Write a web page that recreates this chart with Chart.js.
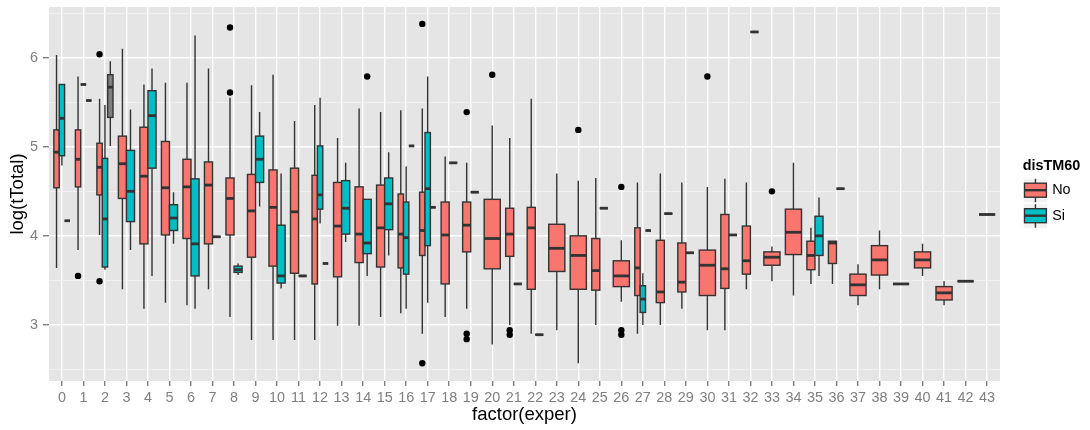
<!DOCTYPE html>
<html>
<head>
<meta charset="utf-8">
<title>log(tTotal) by factor(exper)</title>
<script src="https://cdn.jsdelivr.net/npm/chart.js@4.4.1/dist/chart.umd.min.js"></script>
<style>
  html, body { margin: 0; padding: 0; background: #ffffff; }
  #wrap { width: 1090px; height: 430px; }
</style>
</head>
<body>
<div id="wrap"><canvas id="chart" width="1090" height="430"></canvas></div>
<script>
// Experience levels on the x axis
const categories = ['0','1','2','3','4','5','6','7','8','9','10','11','12','13','14','15','16','17','18','19','20','21',
  '22','23','24','25','26','27','28','29','30','31','32','33','34','35','36','37','38','39','40','41','42','43'];

// Box statistics per level: [lower whisker, Q1, median, Q3, upper whisker];
// a single number means one observation; null means no data for that group.
const statsNo = [
  [3.64, 4.54, 4.94, 5.19, 6.03], [3.84, 4.55, 4.86, 5.19, 5.79], [4.01, 4.46, 4.77, 5.04, 5.54],
  [3.40, 4.42, 4.81, 5.12, 6.10], [3.18, 3.91, 4.67, 5.22, 5.70], [3.25, 4.01, 4.54, 5.06, 5.72],
  [3.22, 3.97, 4.55, 4.86, 5.72], [3.40, 3.91, 4.57, 4.83, 5.88], [3.09, 4.01, 4.42, 4.65, 5.55],
  [2.83, 3.76, 4.28, 4.69, 5.69], [2.83, 3.66, 4.32, 4.74, 5.81], [2.83, 3.58, 4.27, 4.76, 5.29],
  [2.83, 3.46, 4.19, 4.68, 5.47], [2.99, 3.54, 4.11, 4.60, 5.10], [2.99, 3.70, 4.02, 4.55, 5.43],
  [3.09, 3.65, 4.09, 4.57, 5.39], [3.13, 3.64, 4.02, 4.47, 5.41], [2.90, 3.78, 4.06, 4.49, 5.43],
  [3.09, 3.46, 4.01, 4.38, 4.89], [3.18, 3.82, 4.12, 4.38, 4.82], [2.78, 3.63, 3.97, 4.41, 5.24],
  [3.00, 3.77, 4.02, 4.31, 5.10], [2.90, 3.40, 4.09, 4.32, 5.54], [2.94, 3.60, 3.86, 4.13, 4.70],
  [2.57, 3.40, 3.78, 4.00, 4.62], [3.00, 3.39, 3.61, 3.97, 4.65], [3.26, 3.43, 3.55, 3.72, 3.95],
  [2.90, 3.33, 3.64, 4.09, 4.60], [3.00, 3.25, 3.37, 3.95, 4.70], [3.18, 3.37, 3.48, 3.92, 4.60],
  [2.94, 3.33, 3.67, 3.84, 4.55], [2.94, 3.41, 3.63, 4.24, 4.64], [3.40, 3.57, 3.72, 4.11, 4.60],
  [3.49, 3.67, 3.76, 3.82, 3.88], [3.33, 3.79, 4.04, 4.30, 4.82], [3.46, 3.62, 3.78, 3.94, 4.09],
  [3.46, 3.69, 3.92, 3.94, 3.94], [3.22, 3.33, 3.45, 3.57, 3.68], [3.40, 3.56, 3.73, 3.89, 4.06],
  3.46, [3.55, 3.64, 3.73, 3.82, 3.91], [3.22, 3.28, 3.36, 3.43, 3.49], 3.49, 4.24
];

const statsSi = [
  [4.79, 4.90, 5.32, 5.70, 5.70], 5.70, [3.62, 3.65, 4.19, 4.87, 5.47],
  [3.84, 4.16, 4.50, 4.96, 5.42], [3.55, 4.76, 5.35, 5.63, 5.88], [3.91, 4.06, 4.20, 4.35, 4.49],
  [3.18, 3.55, 3.91, 4.64, 6.25], 3.99, [3.56, 3.59, 3.62, 3.66, 3.69],
  [4.33, 4.60, 4.86, 5.12, 5.39], [3.41, 3.47, 3.55, 4.12, 4.70], 3.55,
  [4.14, 4.30, 4.46, 5.01, 5.55], [3.93, 4.02, 4.31, 4.62, 4.82], [3.55, 3.80, 3.92, 4.41, 4.41],
  [3.78, 4.07, 4.36, 4.65, 4.94], [3.18, 3.57, 3.98, 4.38, 4.78], [3.25, 3.89, 4.53, 5.16, 5.79],
  4.82, 4.49, null,
  3.46, 2.89, null,
  null, 4.31, null,
  [3.00, 3.14, 3.29, 3.44, 3.58], 4.25, 3.81,
  null, 4.01, 6.29,
  null, null, [3.55, 3.78, 4.00, 4.22, 4.43],
  4.53, null, null,
  null, null, null, null, null
];

const statsNA = [
  4.17, 5.52, [5.01, 5.33, 5.67, 5.81, 5.96], null, null, null, null, null, null, null, null, null,
  3.69, null, null, null, 5.01, 4.32, null, null, null, null, null, null, null, null, null,
  4.06, null, null, null, null, null, null, null, null, null, null, null, null, null, null, null, null
];

// Outlying observations: [level index, value]
const outliersNo = [
  [1, 3.55], [2, 6.04], [2, 3.49], [8, 6.34], [8, 5.61], [17, 6.38], [17, 2.57],
  [19, 5.39], [19, 2.90], [19, 2.84], [20, 5.81], [21, 2.94], [21, 2.89], [24, 5.19],
  [26, 4.55], [26, 2.94], [26, 2.89], [30, 5.79], [33, 4.50]
];
const outliersSi = [[14, 5.79]];

// y axis breaks
const yMajorTicks = [3, 4, 5, 6];
const yMinorTicks = [2.5, 3.5, 4.5, 5.5, 6.5];

const groups = [
  { name: 'No', fill: '#F8766D', stats: statsNo, outliers: outliersNo },
  { name: 'Si', fill: '#00BFC4', stats: statsSi, outliers: outliersSi },
  { name: 'NA', fill: '#7F7F7F', stats: statsNA, outliers: [] }
];
const legendGroups = groups.slice(0, 2);

const DODGE = 0.75;          // total box width per level, in category units
const LINE = '#333333';
const FONT = "'Liberation Sans', Arial, Helvetica, sans-serif";

function expand(s) { return typeof s === 'number' ? [s, s, s, s, s] : s; }

// centre and width (in category units) of a group's box at level i
function slot(i, g) {
  const present = groups.filter(gr => gr.stats[i] !== null && gr.stats[i] !== undefined);
  const k = present.indexOf(g);
  const w = DODGE / present.length;
  return { center: i - DODGE / 2 + w * (k + 0.5), width: w };
}

const outlierPoints = [];
groups.forEach(g => g.outliers.forEach(([i, v]) => {
  outlierPoints.push({ x: slot(i, g).center, y: v });
}));

const panelPlugin = {
  id: 'panel',
  beforeDraw(chart) {
    const { ctx, chartArea: a } = chart;
    ctx.save();
    ctx.fillStyle = '#E5E5E5';
    ctx.fillRect(a.left, a.top, a.right - a.left, a.bottom - a.top);
    ctx.restore();
  }
};

const boxPlugin = {
  id: 'boxes',
  beforeDatasetsDraw(chart) {
    const { ctx, scales: { x, y } } = chart;
    ctx.save();
    ctx.beginPath();
    ctx.rect(chart.chartArea.left, chart.chartArea.top,
      chart.chartArea.right - chart.chartArea.left, chart.chartArea.bottom - chart.chartArea.top);
    ctx.clip();
    categories.forEach((c, i) => {
      groups.forEach(g => {
        const raw = g.stats[i];
        if (raw === null || raw === undefined) return;
        const [lo, q1, med, q3, hi] = expand(raw);
        const s = slot(i, g);
        const cx = x.getPixelForValue(s.center);
        const left = x.getPixelForValue(s.center - s.width / 2);
        const right = x.getPixelForValue(s.center + s.width / 2);
        const yLo = y.getPixelForValue(lo), yQ1 = y.getPixelForValue(q1);
        const yMed = y.getPixelForValue(med), yQ3 = y.getPixelForValue(q3), yHi = y.getPixelForValue(hi);
        ctx.strokeStyle = LINE;
        ctx.lineWidth = 1.4;
        ctx.beginPath();
        ctx.moveTo(cx, yHi); ctx.lineTo(cx, yQ3);
        ctx.moveTo(cx, yQ1); ctx.lineTo(cx, yLo);
        ctx.stroke();
        ctx.fillStyle = g.fill;
        ctx.fillRect(left, yQ3, right - left, yQ1 - yQ3);
        ctx.strokeRect(left, yQ3, right - left, yQ1 - yQ3);
        ctx.lineWidth = 2.8;
        ctx.beginPath();
        ctx.moveTo(left, yMed); ctx.lineTo(right, yMed);
        ctx.stroke();
      });
    });
    ctx.restore();
  }
};

const legendPlugin = {
  id: 'boxLegend',
  afterDraw(chart) {
    const { ctx } = chart;
    const kx = 1022.7, ky = 177.7, ks = 25.5;
    ctx.save();
    ctx.fillStyle = '#000000';
    ctx.font = 'bold 14.4px ' + FONT;
    ctx.textBaseline = 'alphabetic';
    ctx.textAlign = 'left';
    ctx.fillText('disTM60', kx, 170);
    legendGroups.forEach((g, j) => {
      const top = ky + j * ks;
      ctx.fillStyle = '#F2F2F2';
      ctx.fillRect(kx, top, ks, ks);
      ctx.strokeStyle = '#FFFFFF';
      ctx.lineWidth = 1;
      ctx.strokeRect(kx + 0.5, top + 0.5, ks - 1, ks - 1);
      const cx = kx + ks / 2;
      ctx.strokeStyle = LINE;
      ctx.lineWidth = 1.4;
      ctx.beginPath();
      ctx.moveTo(cx, top + 1); ctx.lineTo(cx, top + 5.5);
      ctx.moveTo(cx, top + 19.5); ctx.lineTo(cx, top + ks - 1);
      ctx.stroke();
      ctx.fillStyle = g.fill;
      ctx.fillRect(kx + 1.8, top + 5.5, ks - 3.6, 14);
      ctx.strokeRect(kx + 1.8, top + 5.5, ks - 3.6, 14);
      ctx.lineWidth = 2.4;
      ctx.beginPath();
      ctx.moveTo(kx + 1.8, top + 12.5); ctx.lineTo(kx + ks - 1.8, top + 12.5);
      ctx.stroke();
      ctx.fillStyle = '#000000';
      ctx.font = '14.4px ' + FONT;
      ctx.textBaseline = 'middle';
      ctx.fillText(g.name, kx + ks + 4, top + ks / 2);
    });
    ctx.restore();
  }
};

new Chart(document.getElementById('chart'), {
  type: 'scatter',
  data: {
    datasets: [{
      label: 'outliers',
      data: outlierPoints,
      pointRadius: 3.2,
      pointHoverRadius: 3.2,
      backgroundColor: '#000000',
      borderWidth: 0
    }]
  },
  options: {
    responsive: false,
    devicePixelRatio: 1,
    animation: false,
    events: [],
    layout: { padding: { left: 0, top: 7, right: 90, bottom: 0 } },
    plugins: { legend: { display: false }, tooltip: { enabled: false } },
    scales: {
      x: {
        type: 'linear',
        min: -0.6,
        max: 43.6,
        afterBuildTicks(scale) { scale.ticks = categories.map((c, i) => ({ value: i })); },
        afterFit(scale) { scale.height = 49; scale.paddingLeft = 0; scale.paddingRight = 0; },
        ticks: {
          autoSkip: false,
          maxRotation: 0,
          padding: 3,
          color: '#7F7F7F',
          font: { family: FONT, size: 14.4 },
          callback: (v) => categories[v]
        },
        grid: { color: '#FFFFFF', lineWidth: 1.4, tickColor: '#7F7F7F', tickLength: 5, drawTicks: true },
        border: { display: false },
        title: {
          display: true, text: 'factor(exper)', color: '#000000',
          font: { family: FONT, size: 18.5 }, padding: { top: 0, bottom: 4 }
        }
      },
      y: {
        type: 'linear',
        min: 2.37,
        max: 6.57,
        afterBuildTicks(scale) {
          scale.ticks = yMinorTicks.concat(yMajorTicks).sort((a, b) => a - b).map(v => ({ value: v }));
        },
        afterFit(scale) { scale.width = 49; scale.paddingTop = 0; scale.paddingBottom = 0; },
        ticks: {
          autoSkip: false,
          padding: 5,
          color: '#7F7F7F',
          font: { family: FONT, size: 14.4 },
          callback: (v) => (yMajorTicks.includes(v) ? String(v) : '')
        },
        grid: {
          color: (c) => (c.tick && yMajorTicks.includes(c.tick.value) ? '#FFFFFF' : '#F2F2F2'),
          lineWidth: (c) => (c.tick && yMajorTicks.includes(c.tick.value) ? 1.4 : 0.8),
          tickColor: (c) => (c.tick && yMajorTicks.includes(c.tick.value) ? '#7F7F7F' : 'rgba(0,0,0,0)'),
          tickLength: 6,
          drawTicks: true
        },
        border: { display: false },
        title: {
          display: true, text: 'log(tTotal)', color: '#000000',
          font: { family: FONT, size: 18.5 }, padding: { top: 7, bottom: 0 }
        }
      }
    }
  },
  plugins: [panelPlugin, boxPlugin, legendPlugin]
});
</script>
</body>
</html>
